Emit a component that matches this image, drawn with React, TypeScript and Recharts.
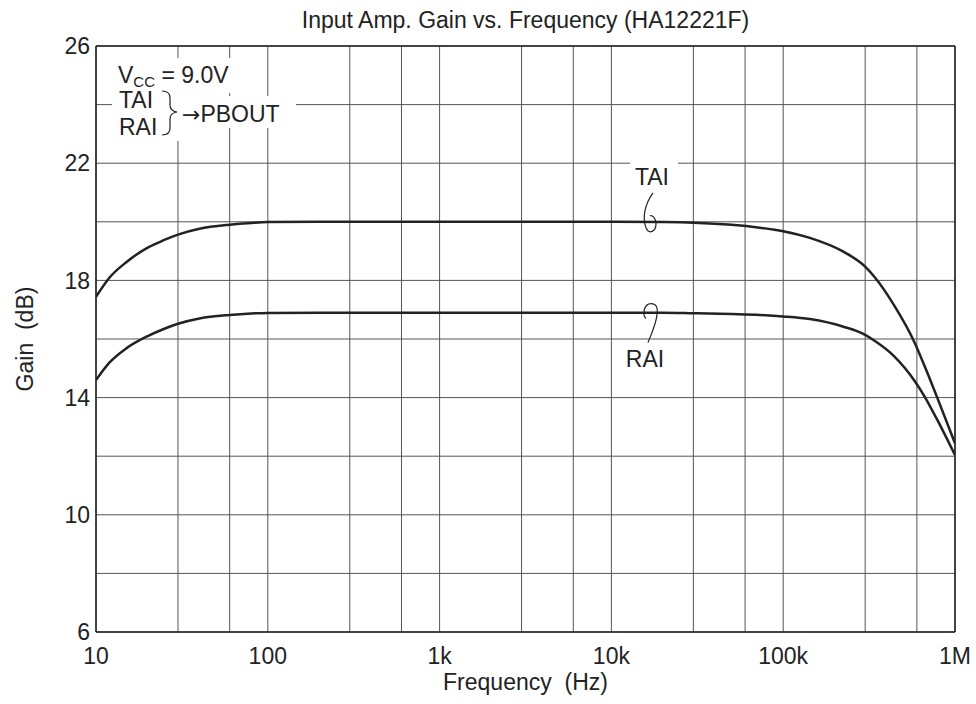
import React from 'react';
import {
  LineChart,
  Line,
  XAxis,
  YAxis,
  CartesianGrid,
  ReferenceLine,
  ReferenceDot,
  Label,
} from 'recharts';

const FONT = '"Liberation Sans", Arial, Helvetica, sans-serif';
const INK = '#222';

const chartTitle = 'Input Amp. Gain vs. Frequency (HA12221F)';
const xAxisTitle = 'Frequency\u00A0 (Hz)';
const yAxisTitle = 'Gain\u00A0 (dB)';

const freqHz = [
  10, 12, 15, 20, 25, 30, 40, 60, 80, 100, 200, 1000, 10000, 20000, 30000,
  50000, 73000, 100000, 143000, 224000, 300000, 342000, 437000, 585000, 668000,
  782000, 1000000,
];
const taiGain = [
  17.44, 18.1, 18.62, 19.12, 19.38, 19.56, 19.76, 19.9, 19.96, 19.99, 20.0,
  20.0, 20.0, 19.99, 19.97, 19.9, 19.8, 19.68, 19.45, 18.98, 18.47, 18.1,
  17.2, 15.85, 15.05, 14.05, 12.44,
];
const raiGain = [
  14.6, 15.2, 15.68, 16.1, 16.35, 16.52, 16.7, 16.82, 16.87, 16.89, 16.9,
  16.9, 16.9, 16.9, 16.88, 16.85, 16.82, 16.77, 16.68, 16.42, 16.14, 15.93,
  15.44, 14.55, 14.02, 13.28, 12.04,
];

const xTicks = [10, 100, 1000, 10000, 100000, 1000000];
const xTickLabels = ['10', '100', '1k', '10k', '100k', '1M'];
const xGrid = [
  10, 30, 60, 100, 300, 600, 1000, 3000, 6000, 10000, 30000, 60000, 100000,
  300000, 600000, 1000000,
];
const yTicks = [6, 10, 14, 18, 22, 26];
const yGrid = [6, 8, 10, 12, 14, 16, 18, 20, 22, 24, 26];

const noteFreq = 17000;
const taiNoteGain = 20.0;
const raiNoteGain = 16.9;

const data = freqHz.map((f, i) => ({ freq: f, tai: taiGain[i], rai: raiGain[i] }));

const fmtX = (v: number) => {
  const i = xTicks.indexOf(v);
  return i >= 0 ? xTickLabels[i] : String(v);
};

const TaiNote = (p: any) => {
  const { cx, cy } = p;
  return (
    <g>
      <rect x={cx - 21} y={cy - 62} width={48} height={32} fill="#fff" />
      <text x={cx + 1} y={cy - 37} textAnchor="middle" fontSize={23} fontFamily={FONT} fill={INK}>
        TAI
      </text>
      <path
        d={`M ${cx + 2} ${cy - 29} C ${cx - 6} ${cy - 18}, ${cx - 9} ${cy - 4}, ${cx - 5} ${cy + 6} C ${cx - 2} ${cy + 13}, ${cx + 5} ${cy + 10}, ${cx + 5} ${cy + 2} C ${cx + 5} ${cy - 4}, ${cx + 1} ${cy - 7}, ${cx - 1} ${cy - 6}`}
        fill="none"
        stroke={INK}
        strokeWidth={1.2}
      />
    </g>
  );
};

const RaiNote = (p: any) => {
  const { cx, cy } = p;
  return (
    <g>
      <text x={cx - 6} y={cy + 54} textAnchor="middle" fontSize={23} fontFamily={FONT} fill={INK}>
        RAI
      </text>
      <path
        d={`M ${cx - 5} ${cy + 6} C ${cx - 9} ${cy + 2}, ${cx - 7} ${cy - 9}, ${cx} ${cy - 9} C ${cx + 6} ${cy - 9}, ${cx + 7} ${cy - 4}, ${cx + 6} ${cy + 2} C ${cx + 5} ${cy + 12}, ${cx} ${cy + 22}, ${cx - 3} ${cy + 30}`}
        fill="none"
        stroke={INK}
        strokeWidth={1.2}
      />
    </g>
  );
};

const CondNote = (p: any) => {
  const { cx, cy } = p;
  return (
    <g fontFamily={FONT} fill={INK}>
      <rect x={cx + 16} y={cy + 12} width={131} height={35} fill="#fff" />
      <rect x={cx + 16} y={cy + 40} width={70} height={55} fill="#fff" />
      <rect x={cx + 84} y={cy + 50} width={116} height={32} fill="#fff" />
      <text x={cx + 22} y={cy + 37} fontSize={23}>
        V
        <tspan fontSize={15} dy={4}>
          CC
        </tspan>
        <tspan fontSize={23} dy={-4}>
          {' = 9.0V'}
        </tspan>
      </text>
      <text x={cx + 23} y={cy + 62} fontSize={23}>
        TAI
      </text>
      <text x={cx + 23} y={cy + 89} fontSize={23}>
        RAI
      </text>
      <path
        d={`M ${cx + 66} ${cy + 45} Q ${cx + 74} ${cy + 45} ${cx + 74} ${cy + 52} L ${cx + 74} ${cy + 59} Q ${cx + 74} ${cy + 65} ${cx + 81} ${cy + 66} Q ${cx + 74} ${cy + 67} ${cx + 74} ${cy + 73} L ${cx + 74} ${cy + 82} Q ${cx + 74} ${cy + 89} ${cx + 66} ${cy + 89}`}
        fill="none"
        stroke={INK}
        strokeWidth={1.2}
      />
      <text x={cx + 86} y={cy + 76} fontSize={23}>
        <tspan fontFamily='"DejaVu Sans", sans-serif' fontSize={22}>→</tspan>
        <tspan>PBOUT</tspan>
      </text>
    </g>
  );
};

export default function App() {
  return (
    <div style={{ position: 'absolute', left: 0, top: 0, width: 976, height: 704, background: '#fff' }}>
      <div
        style={{
          position: 'absolute',
          left: 96,
          top: 9,
          width: 859,
          textAlign: 'center',
          fontFamily: FONT,
          fontSize: 23,
          lineHeight: '23px',
          color: INK,
          whiteSpace: 'pre',
        }}
      >
        {chartTitle}
      </div>
      <LineChart
        width={976}
        height={704}
        data={data}
        margin={{ top: 46, right: 21, bottom: 0, left: 0 }}
      >
        <CartesianGrid
          horizontalValues={yGrid}
          verticalValues={xGrid}
          stroke="#555"
          strokeWidth={1}
        />
        <XAxis
          dataKey="freq"
          type="number"
          scale="log"
          domain={[10, 1000000]}
          allowDataOverflow
          ticks={xTicks}
          interval={0}
          tickFormatter={fmtX}
          tickLine={false}
          tickSize={16}
          tickMargin={0}
          height={72}
          axisLine={{ stroke: INK, strokeWidth: 1.5 }}
          tick={{ fontSize: 23, fontFamily: FONT, fill: INK }}
        >
          <Label
            value={xAxisTitle}
            position="insideBottom"
            offset={14}
            style={{ fontSize: 23, fontFamily: FONT, fill: INK }}
          />
        </XAxis>
        <YAxis
          type="number"
          domain={[6, 26]}
          allowDataOverflow
          ticks={yTicks}
          interval={0}
          tickLine={false}
          tickSize={6}
          tickMargin={0}
          width={96}
          axisLine={{ stroke: INK, strokeWidth: 1.5 }}
          tick={{ fontSize: 23, fontFamily: FONT, fill: INK }}
        >
          <Label
            content={(props: any) => {
              const vb = props.viewBox || {};
              const x = (vb.x || 0) + 25;
              const y = (vb.y || 0) + (vb.height || 0) / 2;
              return (
                <text
                  x={x}
                  y={y}
                  transform={`rotate(-90 ${x} ${y})`}
                  textAnchor="middle"
                  dominantBaseline="central"
                  fontSize={23}
                  fontFamily={FONT}
                  fill={INK}
                >
                  {yAxisTitle}
                </text>
              );
            }}
          />
        </YAxis>
        <ReferenceLine y={26} stroke={INK} strokeWidth={1.5} />
        <ReferenceLine x={1000000} stroke={INK} strokeWidth={1.5} />
        <ReferenceDot x={10} y={26} r={0} shape={(p: any) => <CondNote {...p} />} />
        <ReferenceDot x={noteFreq} y={taiNoteGain} r={0} shape={(p: any) => <TaiNote {...p} />} />
        <ReferenceDot x={noteFreq} y={raiNoteGain} r={0} shape={(p: any) => <RaiNote {...p} />} />
        <Line
          type="monotone"
          dataKey="tai"
          stroke={INK}
          strokeWidth={2.5}
          dot={false}
          activeDot={false}
          isAnimationActive={false}
        />
        <Line
          type="monotone"
          dataKey="rai"
          stroke={INK}
          strokeWidth={2.5}
          dot={false}
          activeDot={false}
          isAnimationActive={false}
        />
      </LineChart>
    </div>
  );
}
